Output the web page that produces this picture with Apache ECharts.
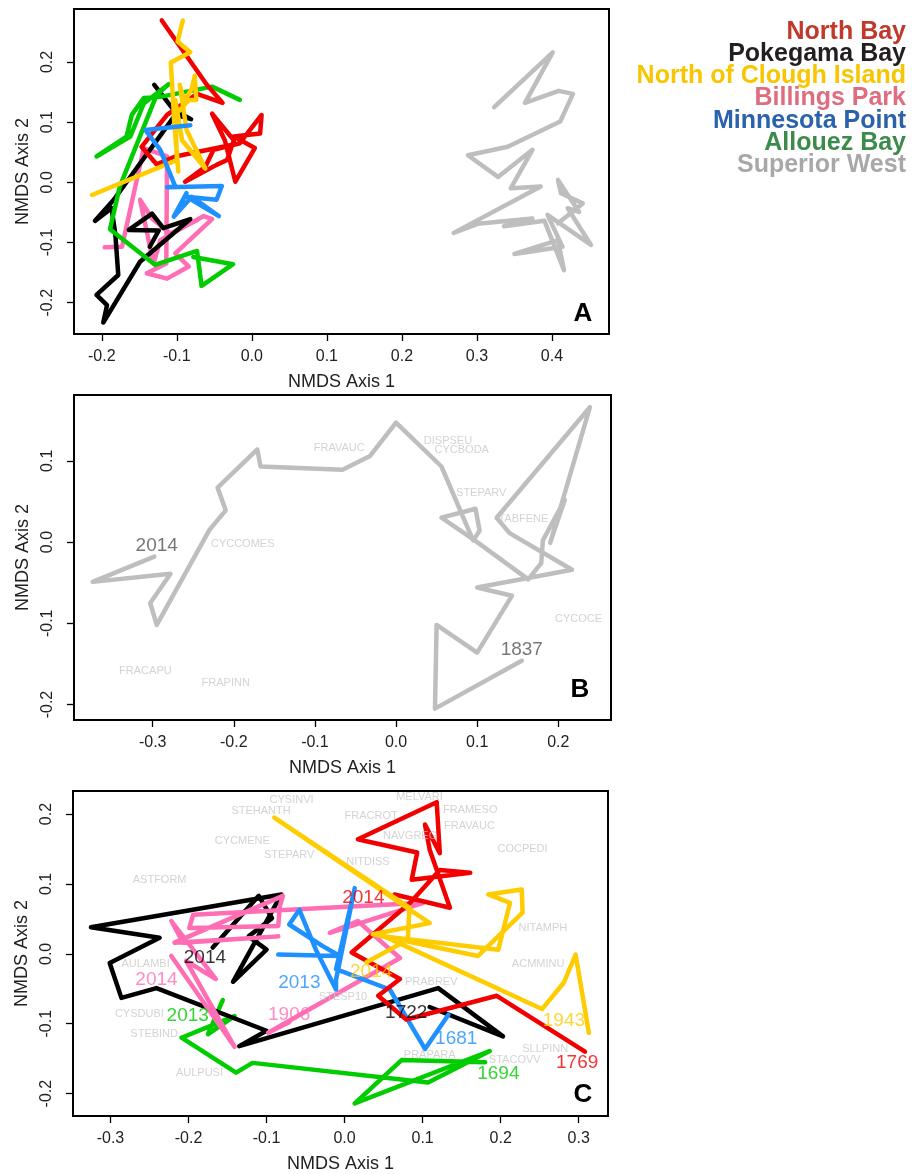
<!DOCTYPE html>
<html>
<head>
<meta charset="utf-8">
<script src="https://cdn.jsdelivr.net/npm/echarts@6.0.0/dist/echarts.min.js"></script>
<style>
  html, body { margin: 0; padding: 0; background: #fff; }
  #chart { width: 918px; height: 1174px; }
</style>
</head>
<body>
<div id="chart"></div>
<script>
// site names, in legend order
var siteNames = ['North Bay', 'Pokegama Bay', 'North of Clough Island', 'Billings Park',
  'Minnesota Point', 'Allouez Bay', 'Superior West'];

// panel A : all sites, NMDS axis 1 / axis 2
var aNorthBay = [[-0.120,0.269],[-0.060,0.162],[-0.039,0.132],[-0.073,0.147],[-0.113,0.112],[-0.147,0.059],
  [-0.127,0.030],[-0.102,0.043],[-0.016,0.065],[-0.051,0.054],[-0.062,0.026],[-0.089,0.001],[-0.047,0.029],
  [-0.033,0.037],[-0.024,0.070],[-0.053,0.114],[-0.036,0.070],[-0.022,0.001],[0.004,0.057],[-0.024,0.076],
  [0.011,0.081],[0.013,0.112],[-0.016,0.065]];
var aPokegama = [[-0.130,0.162],[-0.104,0.120],[-0.081,0.105],[-0.102,0.112],[-0.184,-0.029],[-0.209,-0.064],
  [-0.187,-0.043],[-0.182,-0.085],[-0.178,-0.154],[-0.207,-0.187],[-0.193,-0.204],[-0.198,-0.233],
  [-0.149,-0.132],[-0.082,-0.061],[-0.118,-0.076],[-0.133,-0.052],[-0.164,-0.079],[-0.124,-0.080],[-0.136,-0.107]];
var aClough = [[-0.213,-0.021],[-0.100,0.037],[-0.102,0.137],[-0.093,0.070],[-0.062,0.023],[-0.087,0.087],
  [-0.096,0.162],[-0.090,0.134],[-0.080,0.156],[-0.076,0.177],[-0.074,0.137],[-0.084,0.137],[-0.104,0.109],
  [-0.098,0.018],[-0.104,0.115],[-0.108,0.199],[-0.082,0.216],[-0.099,0.234],[-0.092,0.269]];
var aBillings = [[-0.196,-0.108],[-0.173,-0.107],[-0.144,0.057],[-0.113,0.043],[-0.114,-0.135],[-0.140,-0.151],
  [-0.113,-0.160],[-0.084,-0.140],[-0.102,-0.118],[-0.053,-0.061],[-0.064,-0.056],[-0.122,-0.096],
  [-0.131,-0.135],[-0.149,-0.029],[-0.133,-0.060],[-0.109,-0.085],[-0.073,-0.063]];
var aMinnesota = [[-0.082,0.095],[-0.142,0.087],[-0.122,0.054],[-0.102,-0.007],[-0.113,-0.008],[-0.040,-0.006],
  [-0.047,-0.029],[-0.087,-0.024],[-0.044,-0.056],[-0.080,-0.024],[-0.104,-0.057],[-0.087,-0.018]];
var aAllouez = [[-0.016,0.137],[-0.053,0.159],[-0.122,0.142],[-0.144,0.140],[-0.160,0.112],[-0.167,0.076],
  [-0.207,0.043],[-0.162,0.076],[-0.144,0.131],[-0.111,0.163],[-0.127,0.145],[-0.176,-0.007],[-0.189,-0.078],
  [-0.129,-0.137],[-0.073,-0.114],[-0.067,-0.172],[-0.025,-0.136],[-0.078,-0.124]];
var aSuperior = [[0.323,0.125],[0.401,0.216],[0.364,0.132],[0.409,0.152],[0.428,0.147],[0.411,0.101],
  [0.341,0.059],[0.288,0.045],[0.328,0.009],[0.374,0.054],[0.345,-0.010],[0.385,-0.007],[0.269,-0.084],
  [0.301,-0.069],[0.374,-0.060],[0.336,-0.073],[0.390,-0.064],[0.416,-0.146],[0.408,-0.096],[0.350,-0.119],
  [0.414,-0.107],[0.394,-0.054],[0.452,-0.104],[0.421,-0.043],[0.436,-0.049],[0.408,0.004],[0.412,-0.018],
  [0.441,-0.035],[0.408,-0.068]];

// panel B : Superior West alone, 1837 -> 2014
var bSuperior = [[0.155,-0.146],[0.048,-0.205],[0.050,-0.102],[0.100,-0.136],[0.143,-0.066],[0.100,-0.056],
  [0.217,-0.034],[0.140,0.011],[0.124,0.030],[0.239,0.166],[0.190,-0.001],[0.208,0.052],[0.181,0.002],
  [0.179,-0.026],[0.163,-0.046],[0.097,0.002],[0.056,0.030],[0.098,0.041],[0.103,0.014],[0.095,0.002],
  [0.056,0.093],[0.000,0.147],[-0.032,0.106],[-0.066,0.089],[-0.167,0.093],[-0.171,0.114],[-0.220,0.067],
  [-0.210,0.039],[-0.230,0.015],[-0.295,-0.102],[-0.303,-0.075],[-0.278,-0.039],[-0.374,-0.049],[-0.298,-0.018]];
var bSpecies = [['FRAVAUC',-0.070,0.116],['DISPSEU',0.064,0.125],['CYCBODA',0.081,0.113],['STEPARV',0.105,0.060],
  ['TABFENE',0.157,0.028],['CYCCOMES',-0.189,-0.002],['CYCOCE',0.225,-0.095],['FRACAPU',-0.309,-0.159],
  ['FRAPINN',-0.210,-0.174]];
var bYears = [['2014',-0.295,-0.005],['1837',0.155,-0.132]];

// panel C : the six other sites
var cNorthBay = [[0.308,-0.140],[0.195,-0.060],[0.079,-0.094],[0.043,-0.060],[0.071,-0.036],[0.009,0.002],
  [0.084,0.073],[0.122,0.120],[0.161,0.116],[0.086,0.106],[0.093,0.145],[0.077,0.149],[0.028,0.161],
  [0.017,0.164],[0.118,0.217],[0.122,0.144],[0.103,0.185],[0.109,0.149],[0.135,0.066],[0.064,0.085]];
var cPokegama = [[0.109,-0.076],[0.203,-0.118],[0.120,-0.049],[-0.135,-0.132],[-0.100,-0.110],[-0.241,-0.049],
  [-0.286,-0.063],[-0.301,-0.013],[-0.237,0.023],[-0.325,0.038],[-0.081,0.085],[-0.143,-0.040],[-0.100,0.006],
  [-0.123,0.025],[-0.093,0.051],[-0.110,0.083],[-0.169,0.009]];
var cClough = [[0.313,-0.113],[0.296,-0.001],[0.281,-0.041],[0.253,-0.079],[0.051,0.025],[0.197,0.006],
  [0.212,0.073],[0.184,0.085],[0.227,0.092],[0.228,0.059],[0.171,-0.003],[0.036,0.028],[0.109,0.044],
  [-0.090,0.195],[0.083,0.066],[0.081,0.020],[0.028,-0.012]];
var cBillings = [[-0.071,-0.098],[-0.098,-0.113],[0.071,-0.006],[0.039,0.025],[0.017,0.047],[-0.019,0.030],
  [0.101,0.073],[-0.194,0.056],[-0.199,0.037],[-0.085,0.040],[-0.083,0.068],[-0.079,0.083],[-0.218,0.016],
  [-0.085,0.025],[-0.207,0.016],[-0.222,0.047],[-0.165,-0.036],[-0.203,-0.010],[-0.141,-0.133],[-0.222,-0.003]];
var cMinnesota = [[0.133,-0.087],[0.103,-0.136],[0.058,-0.051],[-0.011,-0.022],[0.013,0.094],[-0.011,-0.037],
  [-0.011,-0.051],[-0.036,0.004],[-0.058,0.063],[-0.071,0.042],[-0.028,0.011],[-0.006,-0.003],[-0.085,-0.001]];
var cAllouez = [[0.180,-0.155],[0.073,-0.152],[0.013,-0.214],[0.186,-0.139],[0.107,-0.184],[-0.118,-0.156],
  [-0.139,-0.170],[-0.209,-0.120],[-0.141,-0.089],[-0.175,-0.115],[-0.156,-0.066]];
var cSpecies = [['CYSINVI',-0.068,0.220],['STEHANTH',-0.107,0.205],['CYCMENE',-0.131,0.161],['STEPARV',-0.071,0.141],
  ['ASTFORM',-0.237,0.105],['AULAMBI',-0.255,-0.015],['CYSDUBI',-0.263,-0.086],['STEBIND',-0.244,-0.115],
  ['AULPUSI',-0.186,-0.171],['MELVARI',0.096,0.224],['FRACROT',0.034,0.197],['FRAMESO',0.161,0.206],
  ['FRAVAUC',0.160,0.183],['NAVGREG',0.084,0.168],['COCPEDI',0.228,0.150],['NITDISS',0.030,0.131],
  ['NITAMPH',0.254,0.037],['ACMMINU',0.248,-0.014],['PRABREV',0.111,-0.040],['STESP10',-0.002,-0.061],
  ['PRAPARA',0.109,-0.144],['STACOVV',0.218,-0.152],['SLLPINN',0.257,-0.136]];
// [text, x, y, site index]
var cYears = [['2014',0.024,0.080,0],['1769',0.298,-0.156,0],['2014',-0.179,-0.006,1],['1722',0.079,-0.085,1],
  ['2014',0.034,-0.025,2],['1943',0.281,-0.096,2],['2014',-0.241,-0.037,3],['1906',-0.071,-0.087,3],
  ['2013',-0.058,-0.041,4],['1681',0.143,-0.121,4],['2013',-0.201,-0.089,5],['1694',0.197,-0.172,5]];

var ticksA = { x: [-0.2,-0.1,0,0.1,0.2,0.3,0.4], y: [-0.2,-0.1,0,0.1,0.2] };
var ticksB = { x: [-0.3,-0.2,-0.1,0,0.1,0.2], y: [-0.2,-0.1,0,0.1] };
var ticksC = { x: [-0.3,-0.2,-0.1,0,0.1,0.2,0.3], y: [-0.2,-0.1,0,0.1,0.2] };

var FONT = 'Liberation Sans, Arial, sans-serif';
var lineColors = ['#f20000', '#000000', '#ffcc00', '#ff6eb4', '#1e90ff', '#00cc00', '#bebebe'];
var legendColors = ['#c0392b', '#231f20', '#f7c600', '#e06c80', '#2a62ab', '#3b8c4a', '#a8a8a8'];

var myChart = echarts.init(document.getElementById('chart'));

function xAxisFor(g, min, max, ticks) {
  return {
    type: 'value', gridIndex: g, min: min, max: max, position: 'bottom',
    name: 'NMDS Axis 1', nameLocation: 'middle', nameGap: 39,
    nameTextStyle: { fontSize: 18, color: '#222', fontFamily: FONT },
    axisLine: { show: false, onZero: false },
    axisTick: { show: true, inside: false, length: 7, customValues: ticks, lineStyle: { color: '#000', width: 1.3 } },
    axisLabel: { customValues: ticks, formatter: function(v) { return v.toFixed(1); }, fontSize: 16, color: '#222', fontFamily: FONT, margin: 15 },
    splitLine: { show: false }
  };
}
function yAxisFor(g, min, max, ticks) {
  return {
    type: 'value', gridIndex: g, min: min, max: max, position: 'left',
    name: 'NMDS Axis 2', nameLocation: 'middle', nameGap: 41, nameRotate: 90,
    nameTextStyle: { fontSize: 18, color: '#222', fontFamily: FONT },
    axisLine: { show: false, onZero: false },
    axisTick: { show: true, inside: false, length: 7, customValues: ticks, lineStyle: { color: '#000', width: 1.3 } },
    axisLabel: { customValues: ticks, rotate: 90, formatter: function(v) { return v.toFixed(1); }, fontSize: 16, color: '#222', fontFamily: FONT, margin: 18 },
    splitLine: { show: false }
  };
}
function path(g, data, site, z) {
  return {
    type: 'line', xAxisIndex: g, yAxisIndex: g, data: data, showSymbol: false, symbol: 'none',
    animation: false, silent: true, z: z || 2,
    lineStyle: { color: lineColors[site], width: 4.5, cap: 'round', join: 'round' }
  };
}
function textLayer(g, items, size, colorFn) {
  return {
    type: 'scatter', xAxisIndex: g, yAxisIndex: g, symbolSize: 0, silent: true, animation: false, z: 5,
    data: items.map(function(t) {
      return { name: t[0], value: [t[1], t[2]], label: { color: colorFn(t) } };
    }),
    label: { show: true, position: 'inside', formatter: '{b}', fontSize: size, fontFamily: FONT }
  };
}

var gridStyle = { show: true, borderColor: '#000', borderWidth: 2, backgroundColor: 'transparent' };
var option = {
  backgroundColor: '#fff',
  animation: false,
  grid: [
    Object.assign({ left: 74, top: 9, width: 535, height: 325 }, gridStyle),
    Object.assign({ left: 74, top: 395, width: 537, height: 325 }, gridStyle),
    Object.assign({ left: 73, top: 791, width: 535, height: 326 }, gridStyle)
  ],
  xAxis: [
    xAxisFor(0, -0.237, 0.476, ticksA.x),
    xAxisFor(1, -0.397, 0.265, ticksB.x),
    xAxisFor(2, -0.348, 0.3375, ticksC.x)
  ],
  yAxis: [
    yAxisFor(0, -0.252, 0.288, ticksA.y),
    yAxisFor(1, -0.219, 0.181, ticksB.y),
    yAxisFor(2, -0.232, 0.233, ticksC.y)
  ],
  series: [
    // A
    path(0, aSuperior, 6), path(0, aBillings, 3), path(0, aPokegama, 1), path(0, aAllouez, 5),
    path(0, aNorthBay, 0), path(0, aClough, 2), path(0, aMinnesota, 4),
    // B
    textLayer(1, bSpecies, 11, function() { return '#c8c8c8'; }),
    path(1, bSuperior, 6),
    textLayer(1, bYears, 19, function() { return '#555'; }),
    // C
    textLayer(2, cSpecies, 11, function() { return '#c8c8c8'; }),
    path(2, cAllouez, 5), path(2, cPokegama, 1), path(2, cBillings, 3), path(2, cMinnesota, 4),
    path(2, cNorthBay, 0), path(2, cClough, 2),
    textLayer(2, cYears, 19, function(t) { return lineColors[t[3]]; })
  ],
  graphic: []
};

// panel letters
[['A', 583, 314], ['B', 580, 690], ['C', 583, 1095]].forEach(function(p) {
  option.graphic.push({ type: 'text', x: p[1], y: p[2], style: { text: p[0], font: 'bold 26px ' + FONT, fill: '#000', align: 'center', verticalAlign: 'middle' } });
});
// legend of sites, right aligned
siteNames.forEach(function(n, i) {
  option.graphic.push({ type: 'text', x: 906, y: 32 + i * 22.2, style: { text: n, font: 'bold 25px ' + FONT, fill: legendColors[i], align: 'right', verticalAlign: 'middle' } });
});

myChart.setOption(option);
</script>
</body>
</html>
